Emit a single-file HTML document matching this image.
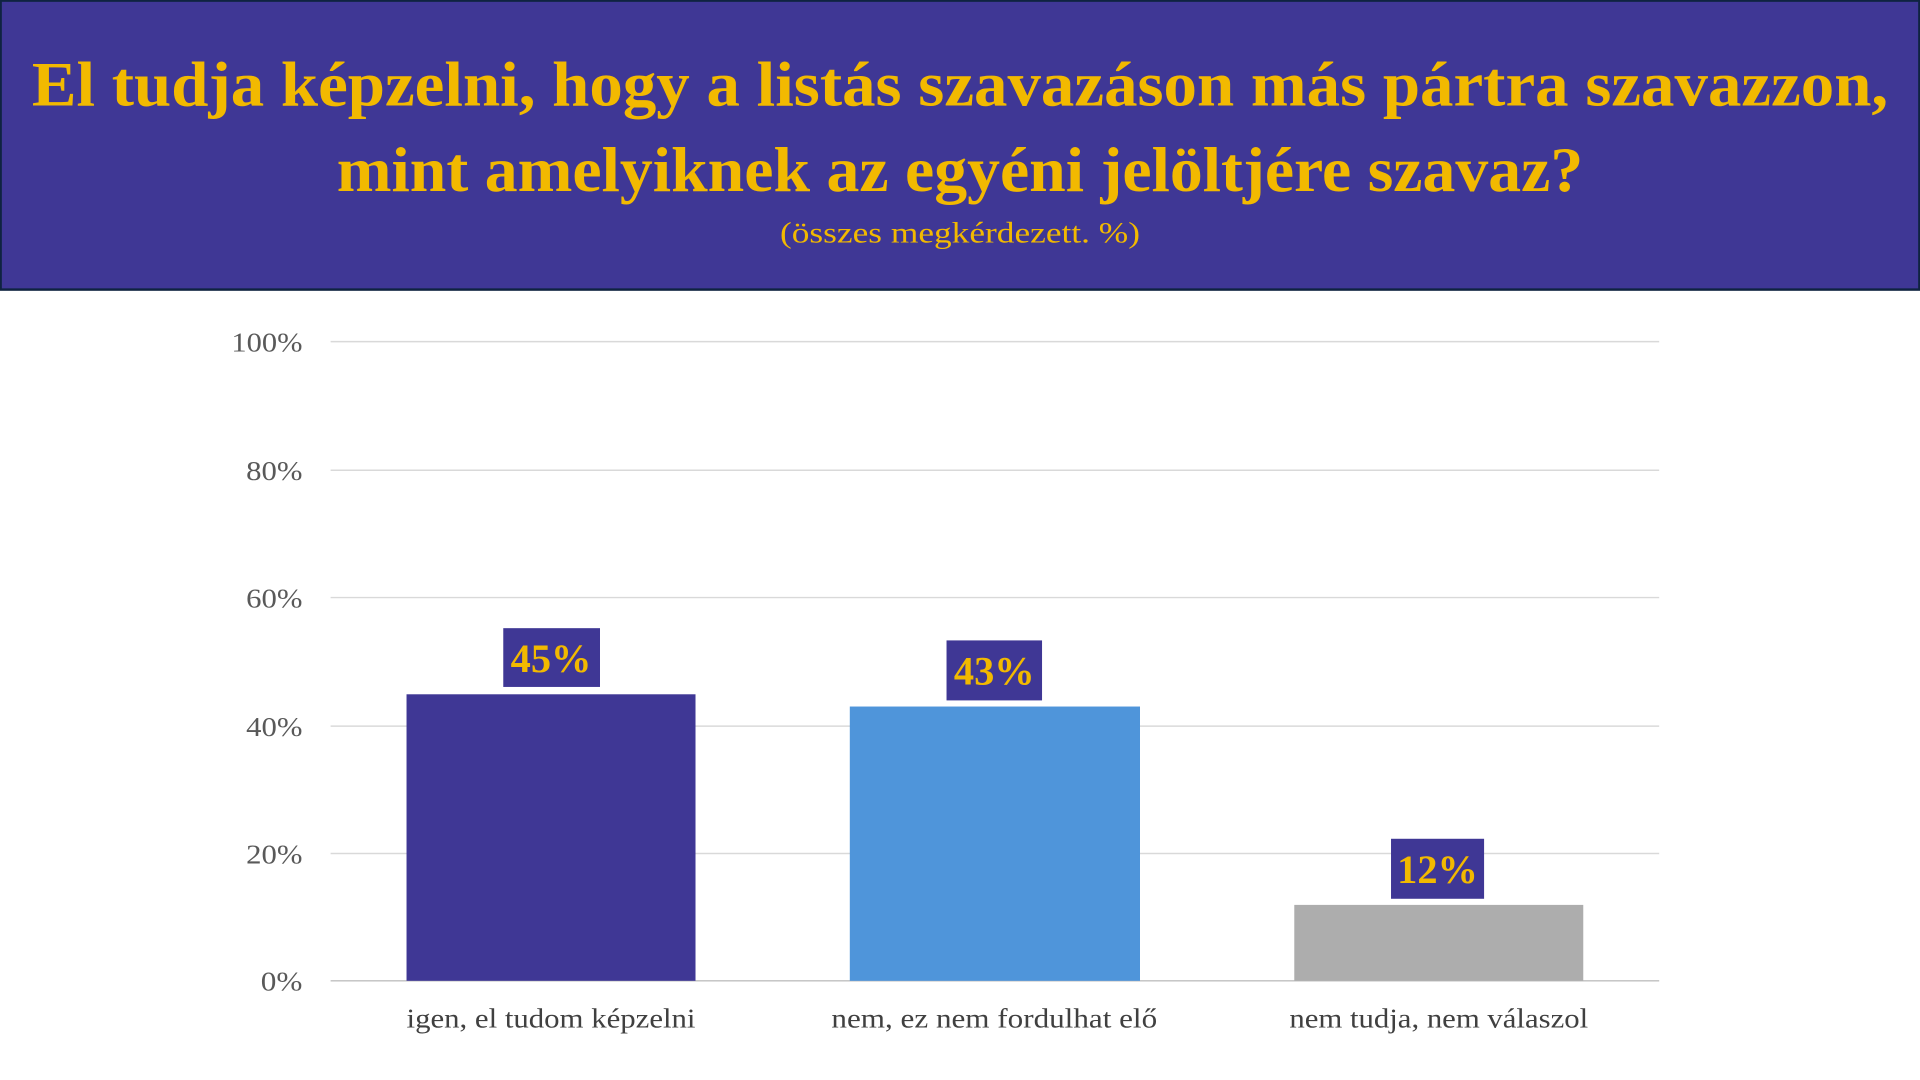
<!DOCTYPE html>
<html><head><meta charset="utf-8"><style>
html,body{margin:0;padding:0;background:#fff;width:1920px;height:1080px;overflow:hidden}
svg{display:block}
text{font-family:"Liberation Serif",serif}
</style></head><body>
<svg width="1920" height="1080" viewBox="0 0 1568 882" preserveAspectRatio="none">
<rect x="0.5" y="0.5" width="1567" height="236" fill="#3F3795" stroke="#0f2340" stroke-width="2"/>
<text x="784" y="86" text-anchor="middle" font-size="52" font-weight="bold" fill="#F2B900" textLength="1516" lengthAdjust="spacingAndGlyphs">El tudja képzelni, hogy a listás szavazáson más pártra szavazzon,</text>
<text x="784" y="156" text-anchor="middle" font-size="52" font-weight="bold" fill="#F2B900" textLength="1018" lengthAdjust="spacingAndGlyphs">mint amelyiknek az egyéni jelöltjére szavaz?</text>
<text x="784" y="198" text-anchor="middle" font-size="24" fill="#F2B900" textLength="294" lengthAdjust="spacingAndGlyphs">(összes megkérdezett. %)</text>
<g stroke="#d9d9d9" stroke-width="1.2">
<line x1="270" x2="1355" y1="279" y2="279"/>
<line x1="270" x2="1355" y1="384" y2="384"/>
<line x1="270" x2="1355" y1="488" y2="488"/>
<line x1="270" x2="1355" y1="593" y2="593"/>
<line x1="270" x2="1355" y1="697" y2="697"/>
<line x1="270" x2="1355" y1="801" y2="801" stroke="#bfbfbf"/>
</g>
<g font-size="22" fill="#595959" text-anchor="end">
<text x="247" y="287" textLength="58" lengthAdjust="spacingAndGlyphs">100%</text>
<text x="247" y="392" textLength="46" lengthAdjust="spacingAndGlyphs">80%</text>
<text x="247" y="496" textLength="46" lengthAdjust="spacingAndGlyphs">60%</text>
<text x="247" y="601" textLength="46" lengthAdjust="spacingAndGlyphs">40%</text>
<text x="247" y="705" textLength="46" lengthAdjust="spacingAndGlyphs">20%</text>
<text x="247" y="809" textLength="34" lengthAdjust="spacingAndGlyphs">0%</text>
</g>
<rect x="332" y="567" width="236" height="234" fill="#3F3795"/>
<rect x="694" y="577" width="237" height="224" fill="#4F95DA"/>
<rect x="1057" y="739" width="236" height="62" fill="#ADADAD"/>
<rect x="411" y="513" width="79" height="48" fill="#3F3795"/>
<rect x="773" y="523" width="78" height="49" fill="#3F3795"/>
<rect x="1136" y="685" width="76" height="49" fill="#3F3795"/>
<g font-size="33" font-weight="bold" fill="#F2B900" text-anchor="middle">
<text x="450" y="549">45%</text>
<text x="812" y="559">43%</text>
<text x="1174" y="721">12%</text>
</g>
<g font-size="22" fill="#404040" text-anchor="middle">
<text x="450" y="839" textLength="236" lengthAdjust="spacingAndGlyphs">igen, el tudom képzelni</text>
<text x="812" y="839" textLength="266" lengthAdjust="spacingAndGlyphs">nem, ez nem fordulhat elő</text>
<text x="1175" y="839" textLength="244" lengthAdjust="spacingAndGlyphs">nem tudja, nem válaszol</text>
</g>
</svg>
</body></html>
